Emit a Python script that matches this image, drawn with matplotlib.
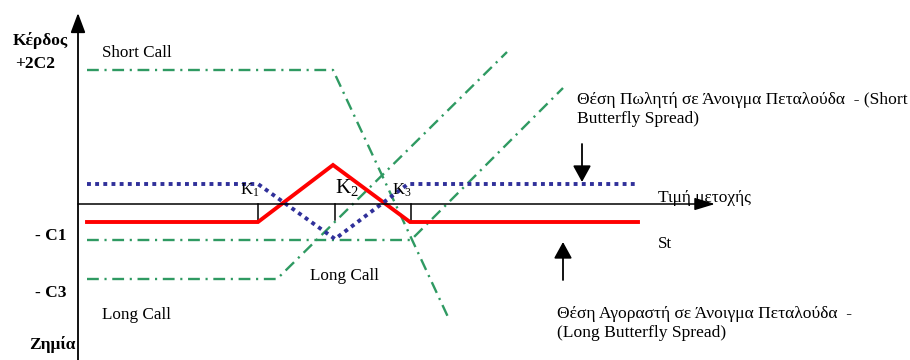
import numpy as np
import matplotlib.pyplot as plt

plt.rcParams['font.family'] = ['Liberation Serif', 'DejaVu Serif']
plt.rcParams['mathtext.fontset'] = 'custom'
plt.rcParams['mathtext.rm'] = 'Liberation Serif'
plt.rcParams['mathtext.it'] = 'Liberation Serif:italic'

# μονάδες: τιμή μετοχής (x), κέρδος/ζημία (y)
strike_x = [180, 257, 333]          # K1, K2, K3
strike_depth = [-18, -16, -18]
strike_lbl = ['K$_1$', 'K$_2$', 'K$_3$']

long_bfly_x = [9, 180, 255, 332, 560]
long_bfly_y = [-18, -18, 39, -18, -18]
short_bfly_x = [9, 180, 257, 330, 560]
short_bfly_y = [20, 20, -35, 20, 20]

short_call_x = [9, 255, 370]        # 2 short calls στο K2
short_call_y = [134, 134, -113]
long_call1_x = [9, 199, 429]        # long call K1
long_call1_y = [-75, -75, 152]
long_call3_x = [9, 333, 485]        # long call K3
long_call3_y = [-36, -36, 116]

green = '#2f9a62'
red = '#ff0000'
blue = '#30309a'

fig = plt.figure(figsize=(9.1, 3.6), dpi=100)
ax = fig.add_axes([0, 0, 1, 1])
ax.set_xlim(-78, 832)
ax.set_ylim(-156, 204)
ax.axis('off')

# άξονες
ax.annotate('', xy=(0, 191), xytext=(0, -160),
            arrowprops=dict(arrowstyle='-|>,head_length=1.2,head_width=0.45',
                            mutation_scale=10, lw=1.3, color='black', shrinkA=0, shrinkB=0))
ax.annotate('', xy=(637, 0), xytext=(0, 0),
            arrowprops=dict(arrowstyle='-|>,head_length=1.25,head_width=0.38',
                            mutation_scale=10, lw=1.1, color='black', shrinkA=0, shrinkB=0))
for sx, sd in zip(strike_x, strike_depth):
    ax.plot([sx, sx], [0, sd], color='black', lw=1.1)

dd = (0, (5, 2.4, 0.9, 2.4))
ax.plot(short_call_x, short_call_y, color=green, lw=1.7, linestyle=dd)
ax.plot(long_call1_x, long_call1_y, color=green, lw=1.7, linestyle=dd)
ax.plot(long_call3_x, long_call3_y, color=green, lw=1.7, linestyle=dd)

ax.plot(long_bfly_x, long_bfly_y, color=red, lw=2.8, solid_joinstyle='miter')
ax.plot(short_bfly_x, short_bfly_y, color=blue, lw=2.8, linestyle=(0, (1, 1.1)))

# βέλη θέσεων
ax.annotate('', xy=(504, 22), xytext=(504, 60),
            arrowprops=dict(arrowstyle='-|>,head_length=1.0,head_width=0.55',
                            mutation_scale=10, lw=1.3, color='black', shrinkA=0, shrinkB=0))
ax.annotate('', xy=(485, -38), xytext=(485, -76),
            arrowprops=dict(arrowstyle='-|>,head_length=1.0,head_width=0.55',
                            mutation_scale=10, lw=1.3, color='black', shrinkA=0, shrinkB=0))

# κείμενα
ax.text(-38, 159, 'Κέρδος', fontsize=12.5, fontweight='bold', ha='center', va='baseline')
ax.text(-43, 136, '+2C2', fontsize=12.5, fontweight='bold', ha='center', va='baseline')
ax.text(-27, -36, '- C1', fontsize=12.5, fontweight='bold', ha='center', va='baseline')
ax.text(-27, -93, '- C3', fontsize=12.5, fontweight='bold', ha='center', va='baseline')
ax.text(-26, -145, 'Ζημία', fontsize=12.5, fontweight='bold', ha='center', va='baseline')

ax.text(24, 147, 'Short Call', fontsize=12.3, va='baseline')
ax.text(24, -115, 'Long Call', fontsize=12.3, va='baseline')
ax.text(232, -76, 'Long Call', fontsize=12.3, va='baseline')

ax.text(162, 9, strike_lbl[0], fontsize=12, va='baseline')
ax.text(257, 11, strike_lbl[1], fontsize=15, va='baseline')
ax.text(314, 9, strike_lbl[2], fontsize=12, va='baseline')

ax.text(580, 2, 'Τιμή μετοχής', fontsize=12.5, va='baseline')
ax.text(580, -44, 'St', fontsize=12.3, va='baseline')
ax.text(499, 81, 'Θέση Πωλητή σε Άνοιγμα Πεταλούδα  - (Short\nButterfly Spread)',
        fontsize=12.6, va='baseline', linespacing=1.25)
ax.text(479, -133, 'Θέση Αγοραστή σε Άνοιγμα Πεταλούδα  -\n(Long Butterfly Spread)',
        fontsize=12.6, va='baseline', linespacing=1.25)

fig.savefig('out.png', dpi=100)
